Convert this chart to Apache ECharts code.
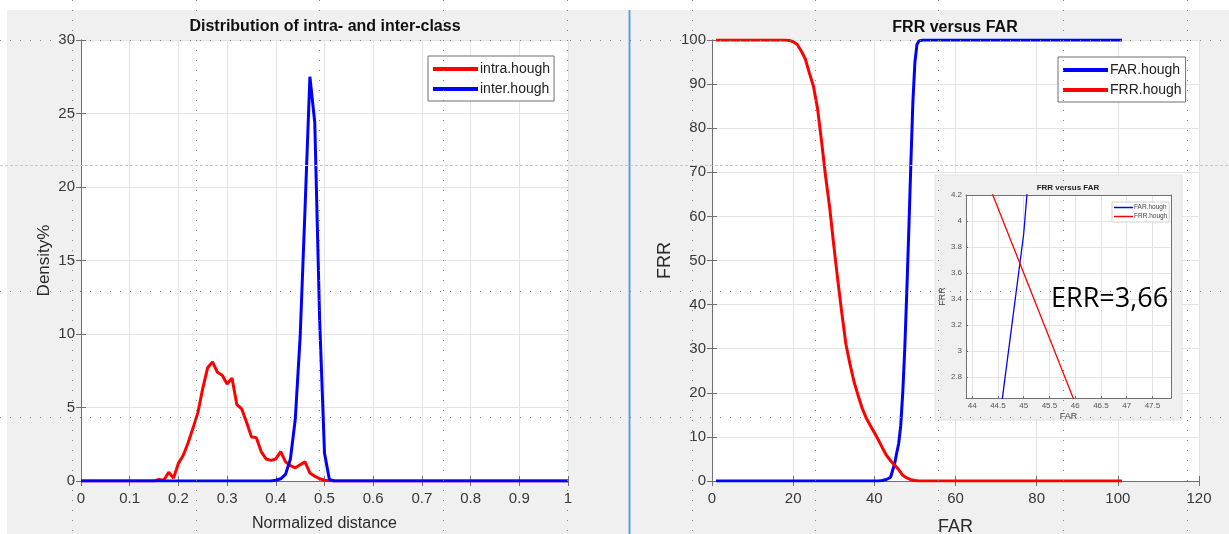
<!DOCTYPE html>
<html><head><meta charset="utf-8">
<script src="https://cdn.jsdelivr.net/npm/echarts@6/dist/echarts.min.js"></script>
<style>html,body{margin:0;padding:0;background:#fff}#c{width:1229px;height:534px}</style>
</head><body><div id="c"></div>
<script>
// ---------- data ----------
const intraX = [0, 0.15, 0.16, 0.17, 0.18, 0.19, 0.20, 0.21, 0.22, 0.23, 0.24, 0.25, 0.26, 0.27, 0.28, 0.29, 0.30, 0.31, 0.32, 0.33, 0.34, 0.35, 0.36, 0.37, 0.38, 0.39, 0.40, 0.41, 0.42, 0.43, 0.44, 0.45, 0.46, 0.47, 0.48, 0.49, 0.50, 0.51, 0.52, 1];
const intraY = [0, 0, 0.1, 0.05, 0.6, 0.2, 1.2, 1.75, 2.6, 3.6, 4.65, 6.3, 7.7, 8.1, 7.4, 7.2, 6.6, 7.0, 5.2, 4.9, 4.0, 3.0, 2.95, 2.0, 1.5, 1.4, 1.5, 2.0, 1.3, 1.05, 0.9, 1.1, 1.3, 0.55, 0.33, 0.15, 0.05, 0.02, 0, 0];
const interX = [0, 0.39, 0.40, 0.41, 0.42, 0.43, 0.44, 0.45, 0.46, 0.47, 0.48, 0.49, 0.50, 0.51, 0.52, 1];
const interY = [0, 0, 0.05, 0.15, 0.45, 1.5, 4.2, 9.8, 18.5, 27.5, 24.4, 11, 1.9, 0.1, 0, 0];

const frrX = [1, 18, 19, 20, 21, 22, 23, 24, 25, 26, 27, 28, 29, 30, 31, 32, 33, 34, 35, 36, 37, 38, 39, 40, 41, 42, 43, 44, 45, 46, 47, 48, 49, 50, 51, 101];
const frrY = [100, 100, 99.9, 99.6, 99, 97.5, 95.7, 92.5, 89.5, 84.5, 77, 69, 62, 53.5, 45.5, 38, 31, 26.5, 22.5, 19.4, 16.5, 14.3, 12.6, 11, 9.3, 7.5, 5.8, 4.6, 3.6, 2.6, 1.3, 0.7, 0.3, 0.1, 0, 0];
const farX = [1, 40, 41, 42, 43, 44, 45, 45.5, 46, 46.5, 47, 47.5, 48, 48.5, 49, 49.5, 50, 50.5, 51, 52, 101];
const farY = [0, 0, 0.02, 0.1, 0.35, 0.85, 3.9, 6.3, 8.5, 12.5, 20, 30, 43, 57, 72, 86, 95, 99, 99.8, 100, 100];

const errText = 'ERR=3,66';

// ---------- helpers ----------
const pairs = (xs, ys) => xs.map((x, i) => [x, ys[i]]);
const FONT = "'Liberation Sans', Arial, sans-serif";
const AXC = '#6f6f6f', LBL = '#383838', GRIDC = '#e4e4e4';

function xAx(gi, o, top) {
  return Object.assign({
    type: 'value', gridIndex: gi, position: top ? 'top' : 'bottom',
    axisLine: { show: true, lineStyle: { color: AXC, width: 1 } },
    axisTick: { show: true, inside: true, length: 5, lineStyle: { color: AXC } },
    splitLine: { show: !top, lineStyle: { color: GRIDC, width: 1 } },
    axisLabel: { show: !top, fontFamily: FONT, fontSize: 15, color: LBL, margin: 10 },
    nameLocation: 'middle',
    nameTextStyle: { fontFamily: FONT, fontSize: 16, color: '#2a2a2a' }
  }, o);
}
function yAx(gi, o, right) {
  return Object.assign({
    type: 'value', gridIndex: gi, position: right ? 'right' : 'left',
    axisLine: { show: true, lineStyle: { color: AXC, width: 1 } },
    axisTick: { show: true, inside: true, length: 5, lineStyle: { color: AXC } },
    splitLine: { show: !right, lineStyle: { color: GRIDC, width: 1 } },
    axisLabel: { show: !right, fontFamily: FONT, fontSize: 15, color: LBL, margin: 6 },
    nameLocation: 'middle',
    nameTextStyle: { fontFamily: FONT, fontSize: 16, color: '#2a2a2a' }
  }, o);
}

const leftX = { min: 0, max: 1, interval: 0.1 };
const leftY = { min: 0, max: 30, interval: 5 };
const rightX = { min: 0, max: 120, interval: 20 };
const rightY = { min: 0, max: 100, interval: 10 };
const insetX = { min: 43.88, max: 47.86, minInterval: 0.5, maxInterval: 0.5, splitNumber: 8 };
const insetY = { min: 2.64, max: 4.2, minInterval: 0.2, maxInterval: 0.2, splitNumber: 8 };

const insetCommon = { zlevel: 1, z: 1 };
const insetLabel = { fontFamily: FONT, fontSize: 8, color: '#555', showMinLabel: false };

// decorative screen guides
const guideXs = [72, 196, 319, 443, 567, 692, 815, 938, 1063, 1187];
const guideYs = [40, 291, 417];
const guideDashY = 165;

const graphics = [
  { type: 'rect', z: -10, shape: { x: 7, y: 10, width: 621, height: 524 }, style: { fill: '#f0f0f0' }, silent: true },
  { type: 'rect', z: -10, shape: { x: 631, y: 10, width: 598, height: 524 }, style: { fill: '#f0f0f0' }, silent: true },
  { type: 'line', z: -5, shape: { x1: 629.5, y1: 10, x2: 629.5, y2: 534 }, style: { stroke: '#5b9bd5', lineWidth: 2 }, silent: true },
  { type: 'text', x: 325, y: 27, style: { text: 'Distribution of intra- and inter-class', font: 'bold 16px ' + FONT, fill: '#111', textAlign: 'center', textVerticalAlign: 'middle' } },
  { type: 'text', x: 955, y: 28, style: { text: 'FRR versus FAR', font: 'bold 16px ' + FONT, fill: '#111', textAlign: 'center', textVerticalAlign: 'middle' } },
  { type: 'rect', zlevel: 1, z: 0, shape: { x: 935, y: 175, width: 247, height: 245 }, style: { fill: '#f0f0f0', stroke: '#e2e2e2', lineWidth: 1 }, silent: true },
  { type: 'text', zlevel: 1, z: 5, x: 1068, y: 188, style: { text: 'FRR versus FAR', font: 'bold 8px ' + FONT, fill: '#222', textAlign: 'center', textVerticalAlign: 'middle' } },
  { type: 'text', zlevel: 1, z: 10, x: 1051, y: 299, style: { text: errText, font: '27px "Open Sans", sans-serif', fill: '#000', textAlign: 'left', textVerticalAlign: 'middle' } }
];
guideXs.forEach(x => graphics.push({ type: 'line', zlevel: 2, shape: { x1: x + 0.5, y1: 0, x2: x + 0.5, y2: 534 }, style: { stroke: '#808080', lineWidth: 1, lineDash: [1, 9] }, silent: true }));
guideYs.forEach(y => graphics.push({ type: 'line', zlevel: 2, shape: { x1: 0, y1: y + 0.5, x2: 1229, y2: y + 0.5 }, style: { stroke: '#808080', lineWidth: 1, lineDash: [1, 9] }, silent: true }));
graphics.push({ type: 'line', zlevel: 2, shape: { x1: 0, y1: guideDashY + 0.5, x2: 1229, y2: guideDashY + 0.5 }, style: { stroke: '#c8c8c8', lineWidth: 1, lineDash: [3, 2] }, silent: true });

const legendBase = {
  orient: 'vertical', icon: 'rect', itemWidth: 45, itemHeight: 4, itemGap: 6,
  backgroundColor: '#fff', borderColor: '#6f6f6f', borderWidth: 1, borderRadius: 0,
  textStyle: { fontFamily: FONT, fontSize: 14, color: '#222', padding: [0, 0, 0, -3] }
};

const gridBase = { show: true, backgroundColor: '#fff', borderWidth: 0, containLabel: false, outerBoundsMode: 'none' };

const option = {
  animation: false,
  backgroundColor: '#fff',
  grid: [
    Object.assign({ left: 81, top: 40, width: 487, height: 441 }, gridBase),
    Object.assign({ left: 712, top: 40, width: 487, height: 441 }, gridBase),
    Object.assign({ left: 966, top: 195, width: 205, height: 203, zlevel: 1, z: 1 }, gridBase)
  ],
  xAxis: [
    xAx(0, Object.assign({ name: 'Normalized distance', nameGap: 35 }, leftX)),
    xAx(0, Object.assign({}, leftX), true),
    xAx(1, Object.assign({ name: 'FAR', nameGap: 37, nameTextStyle: { fontFamily: FONT, fontSize: 18, color: '#2a2a2a' } }, rightX)),
    xAx(1, Object.assign({}, rightX), true),
    xAx(2, Object.assign({ name: 'FAR', nameGap: 14, nameTextStyle: { fontFamily: FONT, fontSize: 9, color: '#444' },
      axisLabel: Object.assign({ margin: 4, showMaxLabel: false }, insetLabel), axisTick: { show: true, inside: true, length: 2, lineStyle: { color: AXC } } }, insetX, insetCommon)),
    xAx(2, Object.assign({ axisTick: { show: false } }, insetX, insetCommon), true)
  ],
  yAxis: [
    yAx(0, Object.assign({ name: 'Density%', nameGap: 28, nameTextStyle: { fontFamily: FONT, fontSize: 17, color: '#2a2a2a' } }, leftY)),
    yAx(0, Object.assign({}, leftY), true),
    yAx(1, Object.assign({ name: 'FRR', nameGap: 38, nameTextStyle: { fontFamily: FONT, fontSize: 18, color: '#2a2a2a' } }, rightY)),
    yAx(1, Object.assign({}, rightY), true),
    yAx(2, Object.assign({ name: 'FRR', nameGap: 14, nameTextStyle: { fontFamily: FONT, fontSize: 9, color: '#444' },
      axisLabel: Object.assign({ margin: 4, showMaxLabel: true }, insetLabel), axisTick: { show: true, inside: true, length: 2, lineStyle: { color: AXC } } }, insetY, insetCommon)),
    yAx(2, Object.assign({ axisTick: { show: false } }, insetY, insetCommon), true)
  ],
  legend: [
    Object.assign({}, legendBase, { data: ['intra.hough', 'inter.hough'], left: 428, top: 56, padding: [6, 4, 5, 5] }),
    Object.assign({}, legendBase, { data: ['FAR.hough', 'FRR.hough'], left: 1058, top: 57, padding: [6, 4, 5, 5] }),
    { orient: 'vertical', icon: 'rect', itemWidth: 19, itemHeight: 1.5, itemGap: 2, zlevel: 1, z: 5,
      data: ['FAR.hough', 'FRR.hough'], left: 1112, top: 202, padding: [2, 2, 2, 2],
      backgroundColor: '#fff', borderColor: '#d0d0d0', borderWidth: 1,
      textStyle: { fontFamily: FONT, fontSize: 6.5, color: '#444', padding: [0, 0, 0, -4] } }
  ],
  graphic: { elements: graphics },
  series: [
    { name: 'intra.hough', type: 'line', xAxisIndex: 0, yAxisIndex: 0, data: pairs(intraX, intraY), showSymbol: false, symbol: 'none', lineStyle: { color: '#ff0000', width: 3 }, itemStyle: { color: '#ff0000' }, z: 2 },
    { name: 'inter.hough', type: 'line', xAxisIndex: 0, yAxisIndex: 0, data: pairs(interX, interY), showSymbol: false, symbol: 'none', lineStyle: { color: '#0000ff', width: 3 }, itemStyle: { color: '#0000ff' }, z: 3 },
    { name: 'FAR.hough', type: 'line', xAxisIndex: 2, yAxisIndex: 2, data: pairs(farX, farY), showSymbol: false, symbol: 'none', lineStyle: { color: '#0000ff', width: 3 }, itemStyle: { color: '#0000ff' }, z: 2 },
    { name: 'FRR.hough', type: 'line', xAxisIndex: 2, yAxisIndex: 2, data: pairs(frrX, frrY), showSymbol: false, symbol: 'none', lineStyle: { color: '#ff0000', width: 3 }, itemStyle: { color: '#ff0000' }, z: 3 },
    { name: 'FAR.hough', type: 'line', xAxisIndex: 4, yAxisIndex: 4, data: pairs(farX, farY), showSymbol: false, symbol: 'none', clip: true, lineStyle: { color: '#0000ff', width: 1.3 }, itemStyle: { color: '#0000ff' }, zlevel: 1, z: 3 },
    { name: 'FRR.hough', type: 'line', xAxisIndex: 4, yAxisIndex: 4, data: pairs(frrX, frrY), showSymbol: false, symbol: 'none', clip: true, lineStyle: { color: '#ff0000', width: 1.3 }, itemStyle: { color: '#ff0000' }, zlevel: 1, z: 3 }
  ]
};
const chart = echarts.init(document.getElementById('c'), null, { renderer: 'canvas' });
chart.setOption(option);
</script>
</body></html>
